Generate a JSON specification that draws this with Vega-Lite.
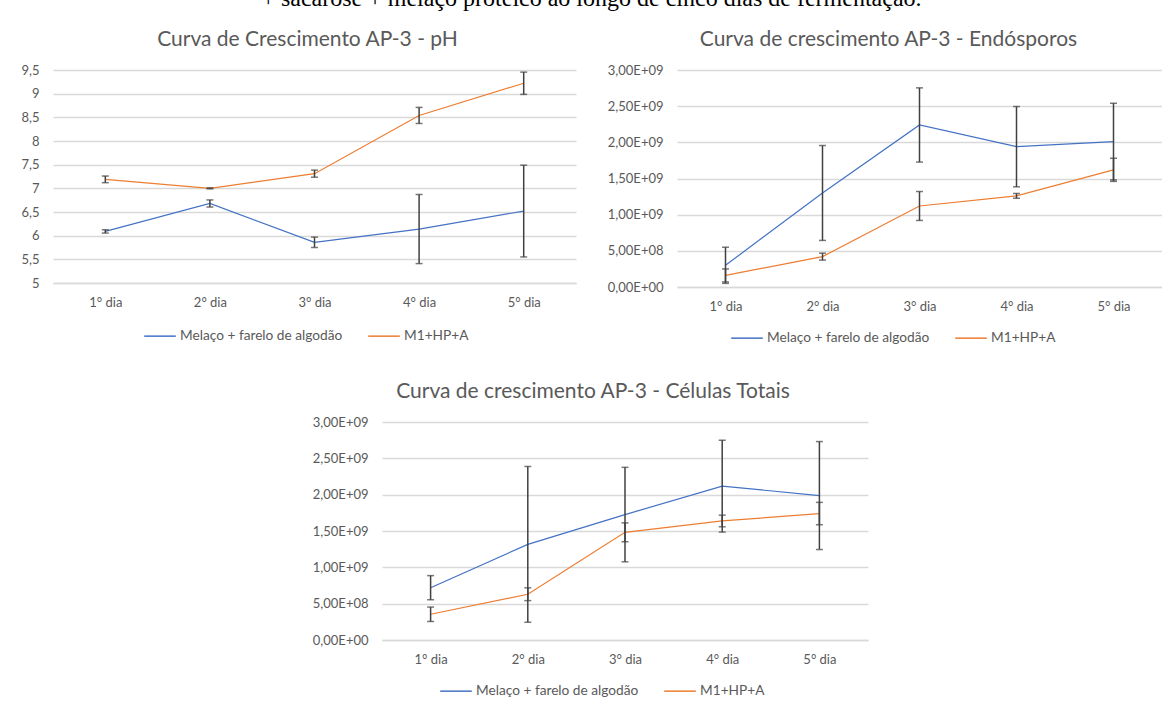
{
  "$schema": "https://vega.github.io/schema/vega-lite/v6.json",
  "padding": {"top": -13, "left": 20, "right": 0, "bottom": 0},
  "title": {
    "text": "+ sacarose + melaço proteico ao longo de cinco dias de fermentação.",
    "font": "Liberation Serif",
    "fontSize": 24,
    "fontWeight": "normal",
    "color": "#000000",
    "anchor": "middle",
    "frame": "bounds",
    "baseline": "top",
    "offset": 18
  },
  "datasets": {
    "ph": [
      {"dia": "1° dia", "serie": "Melaço + farelo de algodão", "v": 6.09, "err": 0.035},
      {"dia": "2° dia", "serie": "Melaço + farelo de algodão", "v": 6.68, "err": 0.075},
      {"dia": "3° dia", "serie": "Melaço + farelo de algodão", "v": 5.86, "err": 0.11},
      {"dia": "4° dia", "serie": "Melaço + farelo de algodão", "v": 6.14, "err": 0.73},
      {"dia": "5° dia", "serie": "Melaço + farelo de algodão", "v": 6.52, "err": 0.97},
      {"dia": "1° dia", "serie": "M1+HP+A", "v": 7.19, "err": 0.07},
      {"dia": "2° dia", "serie": "M1+HP+A", "v": 7.0, "err": 0.01},
      {"dia": "3° dia", "serie": "M1+HP+A", "v": 7.31, "err": 0.075},
      {"dia": "4° dia", "serie": "M1+HP+A", "v": 8.54, "err": 0.17},
      {"dia": "5° dia", "serie": "M1+HP+A", "v": 9.22, "err": 0.235}
    ],
    "endo": [
      {"dia": "1° dia", "serie": "Melaço + farelo de algodão", "v": 300000000, "err": 250000000},
      {"dia": "2° dia", "serie": "Melaço + farelo de algodão", "v": 1300000000, "err": 656000000},
      {"dia": "3° dia", "serie": "Melaço + farelo de algodão", "v": 2240000000, "err": 513000000},
      {"dia": "4° dia", "serie": "Melaço + farelo de algodão", "v": 1940000000, "err": 555000000},
      {"dia": "5° dia", "serie": "Melaço + farelo de algodão", "v": 2010000000, "err": 530000000},
      {"dia": "1° dia", "serie": "M1+HP+A", "v": 160000000, "err": 90000000},
      {"dia": "2° dia", "serie": "M1+HP+A", "v": 420000000, "err": 48000000},
      {"dia": "3° dia", "serie": "M1+HP+A", "v": 1120000000, "err": 200000000},
      {"dia": "4° dia", "serie": "M1+HP+A", "v": 1260000000, "err": 33000000},
      {"dia": "5° dia", "serie": "M1+HP+A", "v": 1620000000, "err": 160000000}
    ],
    "cel": [
      {"dia": "1° dia", "serie": "Melaço + farelo de algodão", "v": 720000000, "err": 166000000},
      {"dia": "2° dia", "serie": "Melaço + farelo de algodão", "v": 1316000000, "err": 1072000000},
      {"dia": "3° dia", "serie": "Melaço + farelo de algodão", "v": 1726000000, "err": 650000000},
      {"dia": "4° dia", "serie": "Melaço + farelo de algodão", "v": 2117000000, "err": 632000000},
      {"dia": "5° dia", "serie": "Melaço + farelo de algodão", "v": 1988000000, "err": 743000000},
      {"dia": "1° dia", "serie": "M1+HP+A", "v": 354000000, "err": 99000000},
      {"dia": "2° dia", "serie": "M1+HP+A", "v": 630000000, "err": 88000000},
      {"dia": "3° dia", "serie": "M1+HP+A", "v": 1482000000, "err": 130000000},
      {"dia": "4° dia", "serie": "M1+HP+A", "v": 1638000000, "err": 80000000},
      {"dia": "5° dia", "serie": "M1+HP+A", "v": 1740000000, "err": 154000000}
    ]
  },
  "resolve": {"scale": {"color": "independent", "x": "independent", "y": "independent"}, "legend": {"color": "independent"}},
  "spacing": 36,
  "vconcat": [
    {
      "resolve": {"scale": {"color": "independent", "x": "independent", "y": "independent"}, "legend": {"color": "independent"}},
      "spacing": 31,
      "hconcat": [
        {
          "title": {"text": "Curva de Crescimento AP-3 - pH", "dx": -7},
          "width": 523,
          "height": 213,
          "data": {"name": "ph"},
          "encoding": {
            "x": {"field": "dia", "type": "nominal", "scale": {"type": "point", "padding": 0.5}, "axis": {"title": null}},
            "y": {"field": "v", "type": "quantitative", "scale": {"domain": [5, 9.5], "nice": false, "zero": false},
                  "axis": {"title": null, "values": [5, 5.5, 6, 6.5, 7, 7.5, 8, 8.5, 9, 9.5], "minExtent": 32, "maxExtent": 32,
                           "labelExpr": "replace(format(datum.value, '.1~f'), '.', ',')"}}
          },
          "layer": [
            {
              "mark": {"type": "line", "strokeWidth": 1.2},
              "encoding": {
                "color": {"field": "serie", "type": "nominal",
                          "scale": {"domain": ["Melaço + farelo de algodão", "M1+HP+A"], "range": ["#4472C4", "#ED7D31"]},
                          "legend": {"title": null, "orient": "none", "legendX": 90, "legendY": 249, "direction": "horizontal"}}
              }
            },
            {
              "mark": {"type": "errorbar", "color": "#404040", "ticks": {"size": 7, "thickness": 1.5}, "rule": {"strokeWidth": 1.5}},
              "encoding": {"yError": {"field": "err"}}
            }
          ]
        },
        {
          "title": {"text": "Curva de crescimento AP-3 - Endósporos", "dx": -31},
          "width": 485,
          "height": 217,
          "data": {"name": "endo"},
          "encoding": {
            "x": {"field": "dia", "type": "nominal", "scale": {"type": "point", "padding": 0.5}, "axis": {"title": null}},
            "y": {"field": "v", "type": "quantitative", "scale": {"domain": [0, 3000000000], "nice": false},
                  "axis": {"title": null, "values": [0, 500000000, 1000000000, 1500000000, 2000000000, 2500000000, 3000000000], "minExtent": 69, "maxExtent": 69,
                           "labelExpr": "datum.value == 0 ? '0,00E+00' : replace(format(datum.value / pow(10, floor(log(datum.value) / LN10 + 1e-9)), '.2f'), '.', ',') + 'E+' + format(floor(log(datum.value) / LN10 + 1e-9), '02d')"}}
          },
          "layer": [
            {
              "mark": {"type": "line", "strokeWidth": 1.2},
              "encoding": {
                "color": {"field": "serie", "type": "nominal",
                          "scale": {"domain": ["Melaço + farelo de algodão", "M1+HP+A"], "range": ["#4472C4", "#ED7D31"]},
                          "legend": {"title": null, "orient": "none", "legendX": 53, "legendY": 251, "direction": "horizontal"}}
              }
            },
            {
              "mark": {"type": "errorbar", "color": "#404040", "ticks": {"size": 7, "thickness": 1.5}, "rule": {"strokeWidth": 1.5}},
              "encoding": {"yError": {"field": "err"}}
            }
          ]
        }
      ]
    },
    {
      "resolve": {"scale": {"color": "independent", "x": "independent", "y": "independent"}, "legend": {"color": "independent"}},
      "spacing": 0,
      "hconcat": [
        {
          "width": 259,
          "height": 10,
          "data": {"values": []},
          "mark": {"type": "point", "opacity": 0}
        },
        {
          "title": {"text": "Curva de crescimento AP-3 - Células Totais", "dx": -32},
          "width": 486,
          "height": 218,
          "data": {"name": "cel"},
          "encoding": {
            "x": {"field": "dia", "type": "nominal", "scale": {"type": "point", "padding": 0.5}, "axis": {"title": null}},
            "y": {"field": "v", "type": "quantitative", "scale": {"domain": [0, 3000000000], "nice": false},
                  "axis": {"title": null, "values": [0, 500000000, 1000000000, 1500000000, 2000000000, 2500000000, 3000000000], "minExtent": 69, "maxExtent": 69,
                           "labelExpr": "datum.value == 0 ? '0,00E+00' : replace(format(datum.value / pow(10, floor(log(datum.value) / LN10 + 1e-9)), '.2f'), '.', ',') + 'E+' + format(floor(log(datum.value) / LN10 + 1e-9), '02d')"}}
          },
          "layer": [
            {
              "mark": {"type": "line", "strokeWidth": 1.2},
              "encoding": {
                "color": {"field": "serie", "type": "nominal",
                          "scale": {"domain": ["Melaço + farelo de algodão", "M1+HP+A"], "range": ["#4472C4", "#ED7D31"]},
                          "legend": {"title": null, "orient": "none", "legendX": 57, "legendY": 252, "direction": "horizontal"}}
              }
            },
            {
              "mark": {"type": "errorbar", "color": "#404040", "ticks": {"size": 7, "thickness": 1.5}, "rule": {"strokeWidth": 1.5}},
              "encoding": {"yError": {"field": "err"}}
            }
          ]
        }
      ]
    }
  ],
  "config": {
    "background": "#ffffff",
    "view": {"stroke": null},
    "font": "Lato",
    "title": {"font": "Lato", "fontSize": 21, "fontWeight": "normal", "color": "#595959", "anchor": "middle", "frame": "group", "baseline": "alphabetic", "offset": 14},
    "axis": {"labelFont": "Lato", "labelFontSize": 13, "labelColor": "#595959", "ticks": false, "labelOverlap": false, "gridColor": "#d9d9d9", "domainColor": "#d9d9d9"},
    "axisX": {"grid": false, "labelAngle": 0, "labelPadding": 13, "domain": true, "domainWidth": 1.3},
    "axisY": {"domain": false, "labelPadding": 14, "gridWidth": 1.3},
    "legend": {"symbolType": "stroke", "symbolSize": 1000, "symbolStrokeWidth": 1.5, "labelFont": "Lato", "labelFontSize": 13.7, "labelLimit": 400, "labelColor": "#595959", "columnPadding": 22, "labelOffset": 3, "padding": 0}
  }
}
